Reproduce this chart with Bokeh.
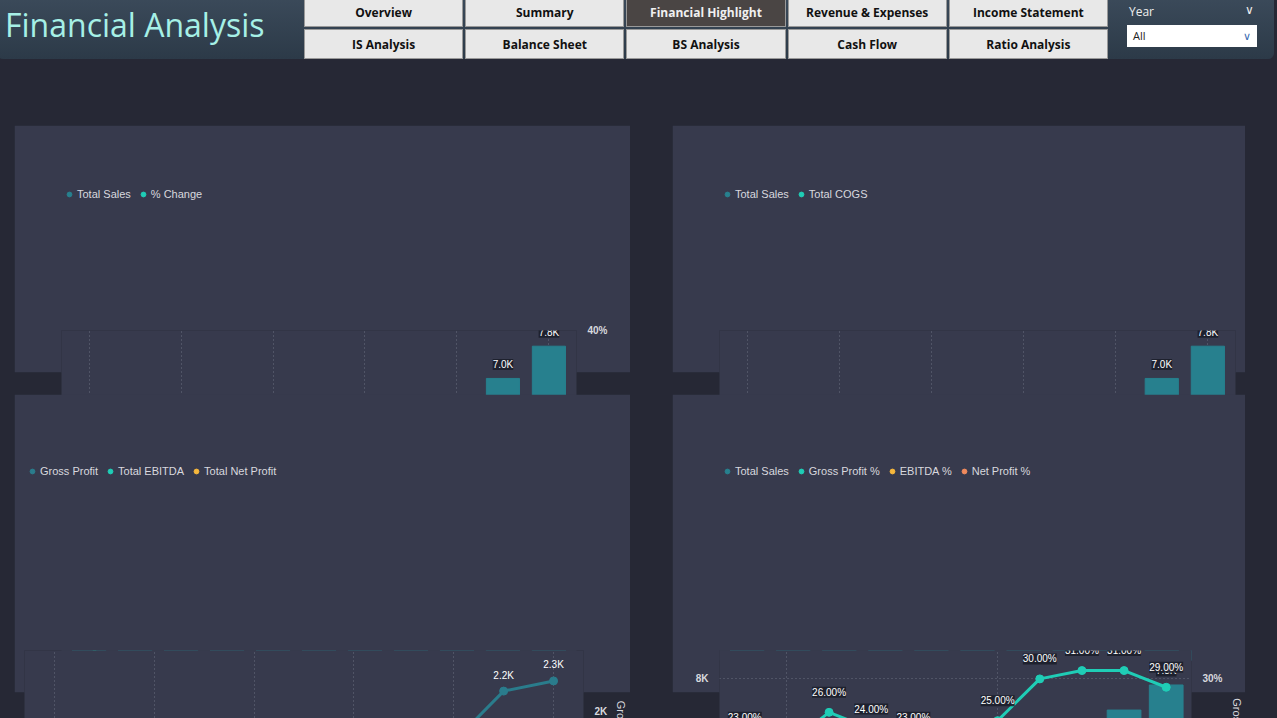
from bokeh.plotting import figure
from bokeh.models import (ColumnDataSource, LinearAxis, Range1d, LabelSet, Legend, LegendItem,
                          FixedTicker, CustomJSTickFormatter, Div, Spacer)
from bokeh.layouts import column, row
from bokeh.embed import file_html
from bokeh.resources import INLINE

years = [2014, 2015, 2016, 2017, 2018, 2019, 2020, 2021, 2022, 2023, 2024]
total_sales = [2500, 2700, 3000, 3200, 3600, 3900, 4100, 4700, 5400, 7000, 7800]
pct_change = [0.00, 10.22, 7.01, 13.00, 10.53, 6.86, 7.70, 15.64, 13.38, 28.12, 14.39]
total_cogs = [1900, 2100, 2200, 2500, 2800, 3100, 3200, 3300, 3700, 4800, 5500]
gross_profit = [600, 650, 800, 800, 830, 820, 1050, 1400, 1700, 2200, 2300]
ebitda = [200, 200, 350, 350, 320, 380, 450, 600, 700, 720, 900]
net_profit = [90, 80, 75, 140, 150, 150, 210, 300, 320, 430, 600]
gp_pct = [23, 22, 26, 24, 23, 21, 25, 30, 31, 31, 29]
ebitda_pct = [10, 9, 12, 11, 9, 10, 11, 12, 12, 10, 11]
np_pct = [3.46, 2.82, 2.48, 4.0, 3.8, 3.52, 4.82, 6.13, 5.70, 6.09, 7.73]

BG = "#262835"
PANEL = "#373a4d"
BAR = "#27808e"
CYAN = "#1fcdb6"
YEL = "#f6b73c"
ORG = "#f08a5d"
GPC = "#2a7c8c"
TXT = "#d8d8de"

kfmt = CustomJSTickFormatter(code="return (tick/1000).toFixed(0)+'K';")
pfmt = CustomJSTickFormatter(code="return tick.toFixed(0)+'%';")

def kl(v):
    return "%.1fK" % (v / 1000.0)

def style_axis(ax):
    ax.axis_line_color = None
    ax.major_tick_line_color = None
    ax.minor_tick_line_color = None
    ax.major_label_text_color = TXT
    ax.major_label_text_font_size = "10px"
    ax.major_label_text_font_style = "bold"
    ax.axis_label_text_color = TXT
    ax.axis_label_text_font_size = "11px"
    ax.axis_label_text_font_style = "normal"

def base(title, w, h, yr, ylabel, xticks):
    p = figure(width=w, height=h, output_backend="svg", toolbar_location=None,
               x_range=Range1d(2013.4, 2024.6), y_range=yr,
               min_border_left=10, min_border_right=10, min_border_top=6, min_border_bottom=6)
    p.background_fill_color = PANEL
    p.border_fill_color = PANEL
    p.outline_line_color = None
    p.title.text = title
    p.title.align = "center"
    p.title.text_color = "#f0f0f0"
    p.title.text_font = "Open Sans"
    p.title.text_font_size = "14px"
    p.title.text_font_style = "bold"
    p.xaxis.ticker = FixedTicker(ticks=xticks)
    p.xaxis.axis_label = "Year"
    p.yaxis.axis_label = ylabel
    for ax in p.xaxis + p.yaxis:
        style_axis(ax)
    p.xgrid.grid_line_color = "#6a6e80"
    p.xgrid.grid_line_dash = "1 3"
    p.xgrid.ticker = FixedTicker(ticks=xticks)
    p.ygrid.grid_line_color = None
    return p

def right_axis(p, name, rng, label, fmt, ticks):
    p.extra_y_ranges = {name: rng}
    ax = LinearAxis(y_range_name=name, axis_label=label, formatter=fmt,
                    ticker=FixedTicker(ticks=ticks))
    style_axis(ax)
    p.add_layout(ax, "right")

def legend(p, items):
    its = []
    for lab, col in items:
        r = p.scatter([2000], [0], size=10, color=col)
        its.append(LegendItem(label=lab, renderers=[r]))
    lg = Legend(items=its, orientation="horizontal", location="top_left",
                background_fill_alpha=0, border_line_color=None,
                label_text_color=TXT, label_text_font_size="11px",
                glyph_width=12, label_standoff=2, spacing=6, padding=2, margin=2)
    p.add_layout(lg, "above")

def labels(p, x, y, text, yoff, rn="default", box=True):
    src = ColumnDataSource(dict(x=x, y=y, t=text))
    p.add_layout(LabelSet(x="x", y="y", text="t", source=src, y_range_name=rn,
                          x_offset=0, y_offset=yoff, text_align="center",
                          text_baseline="middle", text_color="white", text_font_size="10px",
                          background_fill_color="#1c1f2b",
                          background_fill_alpha=0.9 if box else 0,
                          border_line_color=None))

# Chart 1
p1 = base("Total Sales and % Change by Year", 616, 247, Range1d(0, 7800 * 1.05),
          "Total Sales", [2014, 2016, 2018, 2020, 2022, 2024])
p1.yaxis.ticker = FixedTicker(ticks=[0, 5000])
p1.yaxis.formatter = kfmt
right_axis(p1, "pct", Range1d(0, 40), "% Change", pfmt, [0, 20, 40])
legend(p1, [("Total Sales", BAR), ("% Change", CYAN)])
p1.vbar(x=years, top=total_sales, width=0.72, color=BAR)
p1.line(years, pct_change, y_range_name="pct", color=CYAN, line_width=3)
p1.scatter(years, pct_change, y_range_name="pct", color=CYAN, size=8)
labels(p1, years, total_sales, [kl(v) if y not in (2015, 2020) else "" for y, v in zip(years, total_sales)], 14)
labels(p1, years, pct_change, ["%.2f%%" % v if y != 2020 else "" for y, v in zip(years, pct_change)], -16, "pct")

# Chart 2
p2 = base("Total Sales and Total COGS by Year", 573, 247, Range1d(0, 7800 * 1.05),
          "Total Sales", [2014, 2016, 2018, 2020, 2022, 2024])
p2.yaxis.ticker = FixedTicker(ticks=[0, 5000])
p2.yaxis.formatter = kfmt
legend(p2, [("Total Sales", BAR), ("Total COGS", CYAN)])
p2.vbar(x=years, top=total_sales, width=0.72, color=BAR)
p2.line(years, total_cogs, color=CYAN, line_width=3)
p2.scatter(years, total_cogs, color=CYAN, size=8)
labels(p2, years, total_sales, [kl(v) if y not in (2015, 2020) else "" for y, v in zip(years, total_sales)], 14)
labels(p2, years, total_cogs, [kl(v) if y not in (2015, 2020) else "" for y, v in zip(years, total_cogs)], -16)

# Chart 3
p3 = base("Gross Profit, Total EBITDA and Total Net Profit by Year", 616, 298,
          Range1d(-150, 2600), "", [2014, 2016, 2018, 2020, 2022, 2024])
p3.yaxis.visible = False
right_axis(p3, "r", Range1d(-150, 2600), "Gross Profit, Total EBITDA and Tot...", kfmt, [0, 1000, 2000])
legend(p3, [("Gross Profit", GPC), ("Total EBITDA", CYAN), ("Total Net Profit", YEL)])
for ser, col in [(gross_profit, GPC), (ebitda, CYAN), (net_profit, YEL)]:
    p3.line(years, ser, color=col, line_width=3)
    p3.scatter(years, ser, color=col, size=8)
    labels(p3, years, ser, [kl(v) for v in ser], 16, box=False)

# Chart 4
p4 = base("Total Sales, Gross Profit %, EBITDA % and Net Profit % by Year", 573, 298,
          Range1d(0, 8900), "Total Sales", [2015, 2020])
p4.yaxis.ticker = FixedTicker(ticks=[0, 2000, 4000, 6000, 8000])
p4.yaxis.formatter = kfmt
p4.ygrid.grid_line_color = "#6a6e80"
p4.ygrid.grid_line_dash = "1 3"
p4.ygrid.ticker = FixedTicker(ticks=[0, 2000, 4000, 6000, 8000])
right_axis(p4, "p", Range1d(0, 33.4), "Gross Profit %, EBITDA % and Net ...", pfmt, [0, 10, 20, 30])
legend(p4, [("Total Sales", BAR), ("Gross Profit %", CYAN), ("EBITDA %", YEL), ("Net Profit %", ORG)])
p4.vbar(x=years, top=total_sales, width=0.8, color=BAR)
labels(p4, years, total_sales, [kl(v) if y not in (2015, 2020, 2023) else "" for y, v in zip(years, total_sales)], 14)
for ser, col, off in [(gp_pct, CYAN, 20), (ebitda_pct, YEL, 20), (np_pct, ORG, -16)]:
    p4.line(years, ser, y_range_name="p", color=col, line_width=3)
    p4.scatter(years, ser, y_range_name="p", color=col, size=8)
    labels(p4, years, ser, ["%.2f%%" % v for v in ser], off, "p")

btn = ("display:flex;align-items:center;justify-content:center;background:#e8e8e8;color:#111;"
       "font:bold 12px 'Open Sans';border:1px solid #999;")
names = [["Overview", "Summary", "Financial Highlight", "Revenue & Expenses", "Income Statement"],
         ["IS Analysis", "Balance Sheet", "BS Analysis", "Cash Flow", "Ratio Analysis"]]
cells = ""
for r_ in names:
    for n in r_:
        st = btn
        if n == "Financial Highlight":
            st = st + "background:#4a4544;color:#f0f0f0;"
        cells += "<div style=\"%s\">%s</div>" % (st, n)
header_html = (
    "<div style='position:relative;width:1261px;height:56px;'>"
    "<div style='position:absolute;left:-8px;top:-8px;width:1277px;height:62px;"
    "background:linear-gradient(#3b4a5a,#2c3a48);border-radius:0 0 6px 6px;'></div>"
    "<div style='position:absolute;left:0px;top:-2px;font:32px \"Open Sans\";color:#a6f0e6;'>Financial Analysis</div>"
    "<div style='position:absolute;left:299px;top:-8px;width:804px;height:62px;display:grid;"
    "grid-template-columns:repeat(5,1fr);grid-template-rows:repeat(2,1fr);gap:2px;'>" + cells + "</div>"
    "<div style='position:absolute;left:1124px;top:-2px;font:12px \"Open Sans\";color:#eee;'>Year</div>"
    "<div style='position:absolute;left:1240px;top:-4px;font:12px \"Open Sans\";color:#eee;'>&#8744;</div>"
    "<div style='position:absolute;left:1122px;top:20px;width:130px;height:22px;background:#fff;"
    "font:11px \"Open Sans\";color:#222;line-height:22px;padding-left:6px;box-sizing:border-box;'>All"
    "<span style='float:right;padding-right:6px;color:#3a6ab0'>&#8744;</span></div>"
    "</div>")
header = Div(text=header_html, width=1261, height=54)

layout = column(
    header,
    Spacer(width=1261, height=61),
    row(Spacer(width=14, height=247), p1, Spacer(width=42, height=247), p2),
    Spacer(width=1261, height=22),
    row(Spacer(width=14, height=298), p3, Spacer(width=42, height=298), p4),
    styles={"background-color": BG}, spacing=0)
open("out.html", "w").write(file_html(layout, INLINE).replace("<body>", "<body style='background:%s'>" % BG))
